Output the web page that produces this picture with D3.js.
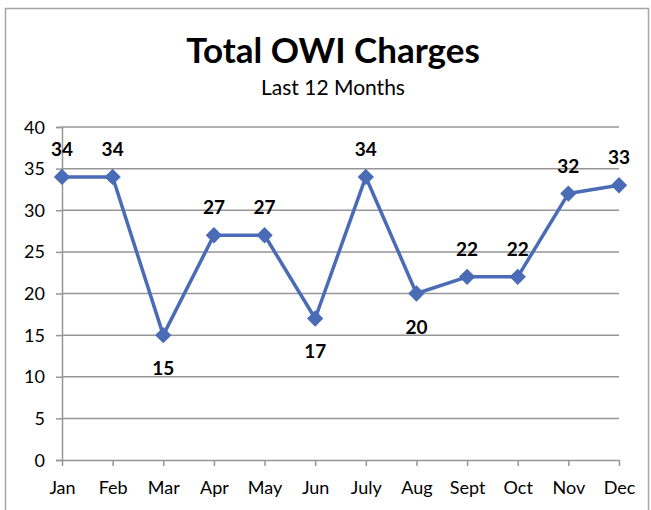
<!DOCTYPE html>
<html>
<head>
<meta charset="utf-8">
<script src="https://cdn.jsdelivr.net/npm/d3@7"></script>
<style>
  body { margin: 0; background: #fff; }
  svg { display: block; font-family: Lato, "Open Sans", sans-serif; }
</style>
</head>
<body>
<svg id="chart"></svg>
<script>
const months = ["Jan", "Feb", "Mar", "Apr", "May", "Jun", "July", "Aug", "Sept", "Oct", "Nov", "Dec"];
const charges = [34, 34, 15, 27, 27, 17, 34, 20, 22, 22, 32, 33];
const yTicks = [0, 5, 10, 15, 20, 25, 30, 35, 40];
// labels placed under the point instead of above
const belowLabels = ["Mar", "Jun", "Aug"];

const width = 651;
const height = 510;

const margin = { top: 127, right: 32, bottom: 50, left: 62 };
const innerWidth = width - margin.left - margin.right;
const innerHeight = height - margin.top - margin.bottom;

const svg = d3.select("#chart")
  .attr("width", width)
  .attr("height", height);

// outer frame (bottom edge runs off the page, like the screenshot)
svg.append("path")
  .attr("d", `M5.5,${height} V8.5 H648.5 V${height}`)
  .attr("fill", "none")
  .attr("stroke", "#a6a6a6")
  .attr("stroke-width", 1.5);

svg.append("text")
  .attr("x", 333).attr("y", 63)
  .attr("text-anchor", "middle")
  .attr("font-size", 35).attr("font-weight", "bold")
  .text("Total OWI Charges");

svg.append("text")
  .attr("x", 333).attr("y", 95)
  .attr("text-anchor", "middle")
  .attr("font-size", 21)
  .text("Last 12 Months");

const graph = svg.append("g")
  .attr("transform", `translate(${margin.left}, ${margin.top})`);

const x = d3.scalePoint().domain(months).range([0, innerWidth]);
const y = d3.scaleLinear().domain([0, 40]).range([innerHeight, 0]);

// gridlines
graph.append("g")
  .selectAll("line")
  .data(yTicks.filter(d => d > 0))
  .join("line")
  .attr("x1", 0).attr("x2", innerWidth)
  .attr("y1", d => y(d)).attr("y2", d => y(d))
  .attr("stroke", "#969696")
  .attr("stroke-width", 1.5);

// y axis
const yAxis = graph.append("g")
  .call(d3.axisLeft(y).tickValues(yTicks).tickSize(6).tickPadding(11))
  .attr("font-size", 18)
  .attr("font-family", "Lato, 'Open Sans', sans-serif");
yAxis.selectAll("text").attr("fill", "#000").attr("dy", null).attr("y", 6);
yAxis.selectAll("line, path").attr("stroke", "#969696").attr("stroke-width", 1.5);

// x axis
const xAxis = graph.append("g")
  .attr("transform", `translate(0, ${innerHeight})`)
  .call(d3.axisBottom(x).tickSize(6).tickPadding(15).tickSizeOuter(0))
  .attr("font-size", 18)
  .attr("font-family", "Lato, 'Open Sans', sans-serif");
xAxis.selectAll("text").attr("fill", "#000").attr("dy", null).attr("y", 34);
xAxis.selectAll("line, path").attr("stroke", "#969696").attr("stroke-width", 1.5);

// line
const line = d3.line()
  .x((d, i) => x(months[i]))
  .y(d => y(d));

graph.append("path")
  .datum(charges)
  .attr("d", line)
  .attr("fill", "none")
  .attr("stroke", "#4a6bb5")
  .attr("stroke-width", 3.5)
  .attr("stroke-linejoin", "round");

// diamonds
graph.selectAll(".pt")
  .data(charges)
  .join("path")
  .attr("class", "pt")
  .attr("d", d3.symbol().type(d3.symbolDiamond2).size(170))
  .attr("transform", (d, i) => `translate(${x(months[i])}, ${y(d)})`)
  .attr("fill", "#4a6bb5");

// value labels
graph.selectAll(".lbl")
  .data(charges)
  .join("text")
  .attr("class", "lbl")
  .attr("x", (d, i) => x(months[i]))
  .attr("y", (d, i) => y(d) + (belowLabels.includes(months[i]) ? 40 : -21))
  .attr("text-anchor", "middle")
  .attr("font-size", 19)
  .attr("font-weight", "bold")
  .text(d => d);
</script>
</body>
</html>
